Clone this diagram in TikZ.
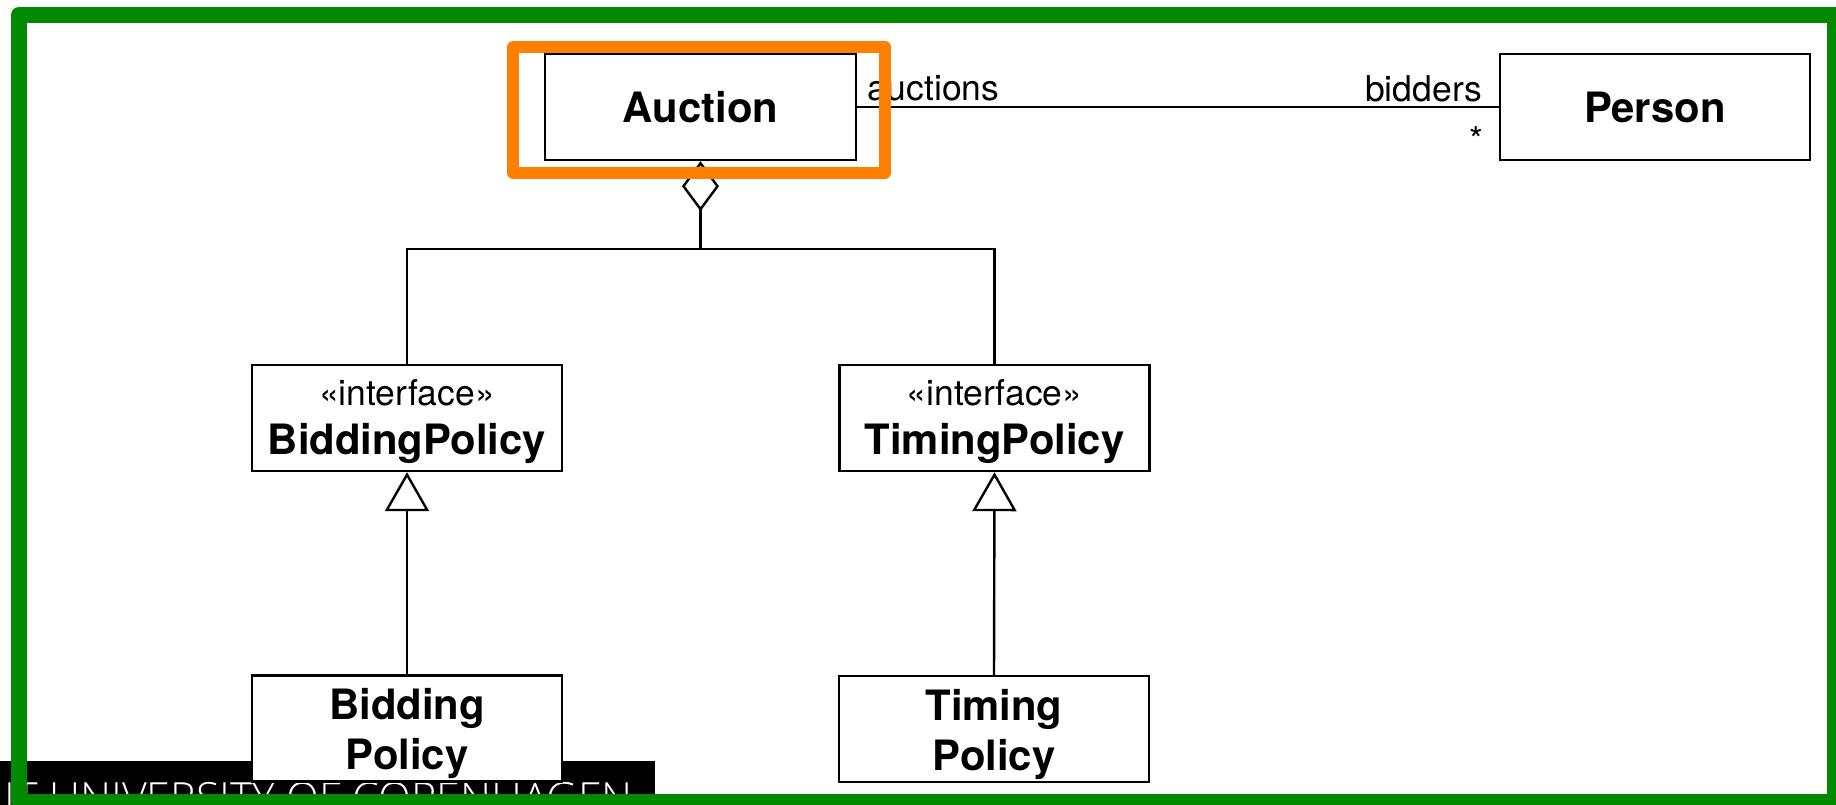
\documentclass[tikz,border=0pt]{standalone}
\usepackage{fontspec}
\setmainfont{TeX Gyre Heros}
\newfontfamily\bannerfont{Open Sans Light}
\usetikzlibrary{arrows.meta}
\definecolor{framegreen}{RGB}{0,138,0}
\definecolor{markorange}{RGB}{255,127,0}
% invisible strut that pushes a two-line label a little lower in its box
\newcommand{\lowerby}[1]{\rule{0pt}{#1}}
\begin{document}
\begin{tikzpicture}[x=1pt,y=-1pt,
  umlline/.style={draw=black, line width=2.4pt},
  classbox/.style={umlline, fill=white, minimum width=310pt, minimum height=106pt,
    inner sep=0pt, align=center, font=\fontsize{41.8}{50}\selectfont\bfseries},
  ifacebox/.style={classbox, font=\fontsize{35.5}{49}\selectfont},
  rolelabel/.style={inner sep=0pt, font=\fontsize{35.5}{40}\selectfont},
  aggregation/.style={umlline, -{Diamond[open, length=50pt, width=37pt]}},
  realizes/.style={umlline, -{Triangle[open, length=39pt, width=44pt]}}]
\useasboundingbox (0,0) rectangle (1836,804);
\clip (0,0) rectangle (1836,804);

% footer banner
\fill[black] (0,761) rectangle (655,820);
\node[anchor=base east, inner sep=0pt, text=white,
  font=\bannerfont\fontsize{43}{43}\selectfont] (banner) at (633,813)
  {IT UNIVERSITY OF COPENHAGEN};

% classes
\node[classbox, minimum width=311pt] (auc) at (700.5,107) {Auction};
\node[classbox] (per) at (1655,107) {Person};
\node[ifacebox] (bidI) at (407,418)
  {\lowerby{34pt}«interface»\\{\bfseries\fontsize{41.8}{49}\selectfont BiddingPolicy}};
\node[ifacebox] (timI) at (994.5,418)
  {\lowerby{34pt}«interface»\\{\bfseries\fontsize{41.8}{49}\selectfont TimingPolicy}};
\node[classbox] (bid) at (407,728.5) {\lowerby{42pt}Bidding\\Policy};
\node[classbox] (tim) at (994,729) {\lowerby{42pt}Timing\\Policy};

% association Auction -- Person
\draw[umlline] (auc.east) -- (per.west);
\node[rolelabel, anchor=base west] (lauc) at (867,100) {auctions};
\node[rolelabel, anchor=base east] (lbid) at (1482,101) {bidders};
\node[rolelabel, anchor=base east] (lmul) at (1483,152) {*};

% aggregation of the two policies
\coordinate (j) at (700.5,249);
\draw[umlline] (bidI.north) |- (j) -| (timI.north);
\draw[aggregation] (j) -- (auc.south);

% realisations
\draw[realizes] (bid.north) -- (bidI.south);
\draw[realizes] (tim.north) -- (timI.south);

% highlight and frame
\draw[markorange, line width=12pt, line join=round] (513,47) rectangle (885,172.5);
\draw[framegreen, line width=16pt, line join=round] (19,15) rectangle (1835,802);
\end{tikzpicture}
\end{document}
